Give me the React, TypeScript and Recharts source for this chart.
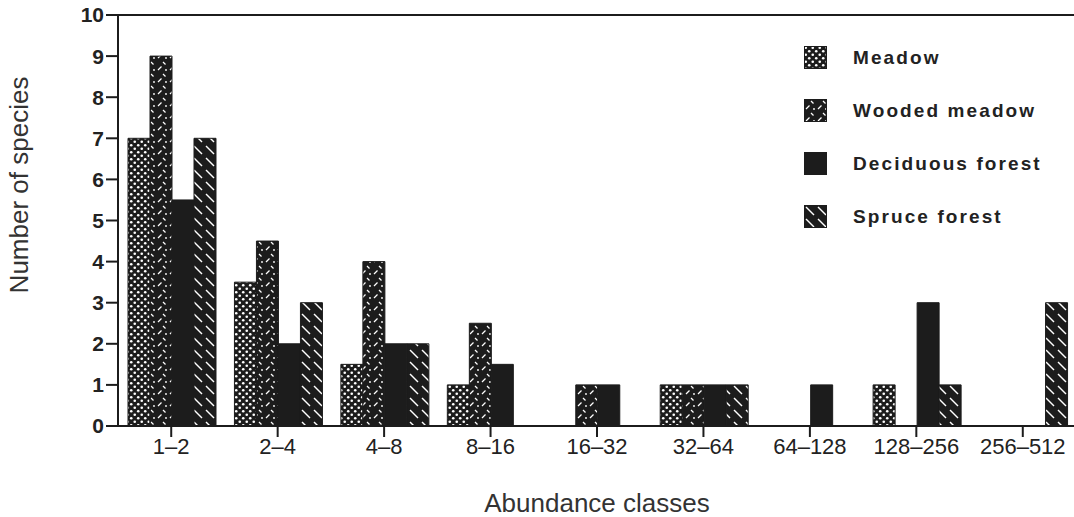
import { BarChart, Bar, XAxis, YAxis, ReferenceLine, Label } from "recharts";

// abundance classes (x axis)
const classes = ["1\u20132", "2\u20134", "4\u20138", "8\u201316", "16\u201332", "32\u201364", "64\u2013128", "128\u2013256", "256\u2013512"];

// number of species per habitat
const meadow = [7, 3.5, 1.5, 1, 0, 1, 0, 1, 0];
const woodedMeadow = [9, 4.5, 4, 2.5, 1, 1, 0, 0, 0];
const deciduousForest = [5.5, 2, 2, 1.5, 1, 1, 1, 3, 0];
const spruceForest = [7, 3, 2, 0, 0, 1, 0, 1, 3];

const yTicks = [0, 1, 2, 3, 4, 5, 6, 7, 8, 9, 10];

const data = classes.map((name, i) => ({
  name,
  meadow: meadow[i],
  wooded: woodedMeadow[i],
  deciduous: deciduousForest[i],
  spruce: spruceForest[i],
}));

const series = [
  { key: "meadow", label: "Meadow", fill: "url(#pDots)" },
  { key: "wooded", label: "Wooded meadow", fill: "url(#pWooded)" },
  { key: "deciduous", label: "Deciduous forest", fill: "#1c1c1c" },
  { key: "spruce", label: "Spruce forest", fill: "url(#pSpruce)" },
];

const font = "'Liberation Sans', Arial, sans-serif";
const ink = "#1c1c1c";

// legend drawn as an overlay so it doesn't shrink the plot
const LegendBox = () => (
  <div style={{ position: "absolute", top: 31, left: 804, fontFamily: font }}>
    {series.map((s) => (
      <div key={s.key} style={{ display: "flex", alignItems: "center", height: 53 }}>
        <svg width={23} height={23} style={{ marginRight: 26 }}>
          <rect x={0.5} y={0.5} width={22} height={22} fill={s.fill} stroke={ink} />
        </svg>
        <span style={{ fontSize: 19, fontWeight: 700, color: "#222", letterSpacing: 2.1 }}>{s.label}</span>
      </div>
    ))}
  </div>
);

const YTitle = () => (
  <text x={28} y={185} transform="rotate(-90 28 185)" textAnchor="middle" fill="#333" fontSize={26} fontFamily={font}>
    Number of species
  </text>
);

export default function App() {
  return (
    <div style={{ position: "fixed", top: 0, left: 0, width: 1074, height: 517, overflow: "hidden", background: "#fff" }}>
      <BarChart
        width={1076}
        height={517}
        data={data}
        margin={{ top: 15, right: 0, left: 0, bottom: 0 }}
        barCategoryGap={10}
        barGap={0}
      >
        <defs>
          <pattern id="pDots" width={7} height={7} patternUnits="userSpaceOnUse">
            <rect width={7} height={7} fill={ink} />
            <circle cx={1.75} cy={1.75} r={1.3} fill="#fff" />
            <circle cx={5.25} cy={5.25} r={1.3} fill="#fff" />
          </pattern>
          <pattern id="pWooded" width={12} height={12} patternUnits="userSpaceOnUse">
            <rect width={12} height={12} fill={ink} />
            <line x1={2} y1={10} x2={5.5} y2={6.5} stroke="#fff" strokeWidth={1.3} />
            <line x1={7} y1={2} x2={9.5} y2={4.5} stroke="#fff" strokeWidth={1.3} />
            <circle cx={10} cy={10} r={0.9} fill="#fff" />
          </pattern>
          <pattern id="pSpruce" width={12} height={12} patternUnits="userSpaceOnUse">
            <rect width={12} height={12} fill={ink} />
            <line x1={2} y1={2} x2={10} y2={10} stroke="#fff" strokeWidth={1.4} />
          </pattern>
        </defs>
        <XAxis
          dataKey="name"
          height={91}
          tickSize={11}
          tickMargin={1}
          axisLine={{ stroke: ink, strokeWidth: 2 }}
          tickLine={{ stroke: ink, strokeWidth: 2 }}
          tick={{ fill: "#222", fontSize: 22, fontFamily: font }}
          interval={0}
        >
          <Label value="Abundance classes" position="insideBottom" offset={5} style={{ fill: "#333", fontSize: 26, fontFamily: font }} />
        </XAxis>
        <YAxis
          domain={[0, 10]}
          ticks={yTicks}
          width={118}
          tickSize={12}
          tickMargin={2}
          axisLine={{ stroke: ink, strokeWidth: 2 }}
          tickLine={{ stroke: ink, strokeWidth: 2 }}
          tick={{ fill: "#222", fontSize: 21, fontWeight: 700, fontFamily: font }}
          interval={0}
        >
          <Label content={<YTitle />} />
        </YAxis>
        <ReferenceLine y={10} stroke={ink} strokeWidth={2} />
        {series.map((s) => (
          <Bar key={s.key} dataKey={s.key} name={s.label} fill={s.fill} stroke={ink} strokeWidth={1} isAnimationActive={false} />
        ))}
      </BarChart>
      <LegendBox />
    </div>
  );
}
